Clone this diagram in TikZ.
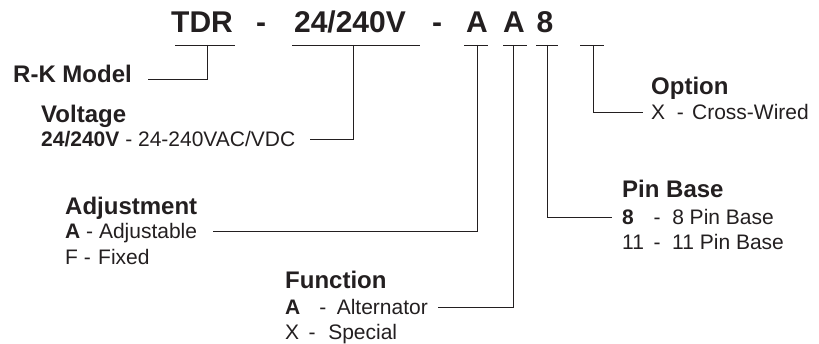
\documentclass[tikz,border=0pt]{standalone}
\usepackage{fontspec}
\setmainfont{Liberation Sans}
\usetikzlibrary{positioning}

\definecolor{ink}{RGB}{35,31,32}

\tikzset{
  CodeStyle/.style = {font=\fontsize{30}{36}\selectfont\bfseries, text=ink, anchor=base, inner sep=0pt},
  HeadStyle/.style = {font=\fontsize{24}{29}\selectfont\bfseries, text=ink, anchor=base west, inner sep=0pt},
  ItemStyle/.style = {font=\fontsize{21}{25}\selectfont, text=ink, anchor=base west, inner sep=0pt},
  LeadStyle/.style = {draw=ink, line width=0.8pt},
}

\begin{document}
\begin{tikzpicture}[x=1pt, y=-1pt]
    \useasboundingbox (0,0) rectangle (819,344);

    % Part number
    \node[CodeStyle] (tdr)   at (202,33) {TDR};
    \node[CodeStyle] (dashA) at (261,33) {-};
    \node[CodeStyle] (volt)  at (350,33) {24/240V};
    \node[CodeStyle] (dashB) at (437,33) {-};
    \node[CodeStyle] (adj)   at (477,33) {A};
    \node[CodeStyle] (fun)   at (514,33) {A};
    \node[CodeStyle] (pin)   at (545,33) {8};

    % Underlines
    \foreach \a/\b in {175/235, 292/420, 464/488, 503/527, 536/558, 580/604}
        \draw[LeadStyle] (\a,45) -- (\b,45);

    % Legend
    \node[HeadStyle] (model) at (13,83)  {R-K Model};
    \node[HeadStyle] (voltH) at (41,123) {Voltage};
    \node[ItemStyle] (voltA) at (41,147) {\textbf{24/240V} - 24-240VAC/VDC};

    \node[HeadStyle] (optH)  at (651,95)  {Option};
    \node[ItemStyle] (optX)  at (651,120) {X\hspace{0.55em}-\hspace{0.4em}Cross-Wired};

    \node[HeadStyle] (pinH)  at (622,198) {Pin Base};
    \node[ItemStyle] (pin8)  at (622,225) {\makebox[1.5em][l]{\textbf{8}}-\hspace{0.55em}8 Pin Base};
    \node[ItemStyle] (pin11) at (622,250) {\makebox[1.5em][l]{11}-\hspace{0.55em}11 Pin Base};

    \node[HeadStyle] (adjH)  at (65,215) {Adjustment};
    \node[ItemStyle] (adjA)  at (65,239) {\textbf{A} - Adjustable};
    \node[ItemStyle] (adjF)  at (65,265) {F -\hspace{0.35em}Fixed};

    \node[HeadStyle] (funH)  at (285,289) {Function};
    \node[ItemStyle] (funA)  at (285,315) {\textbf{A}\hspace{0.9em}-\hspace{0.5em}Alternator};
    \node[ItemStyle] (funX)  at (285,340) {X\hspace{0.45em}-\hspace{0.6em}Special};

    % Leaders
    \foreach \n/\x in {tdr/207, volt/353, adj/477, fun/513, pin/547, opt/593}
        \coordinate (\n Top) at (\x,45);
    \coordinate (tdrEnd)  at (148,79);
    \coordinate (voltEnd) at (310,139);
    \coordinate (adjEnd)  at (213,231);
    \coordinate (funEnd)  at (438,307);
    \coordinate (pinEnd)  at (612,217);
    \coordinate (optEnd)  at (643,112);

    \foreach \n in {tdr, volt, adj, fun, pin, opt}
        \draw[LeadStyle] (\n Top) |- (\n End);
\end{tikzpicture}
\end{document}
